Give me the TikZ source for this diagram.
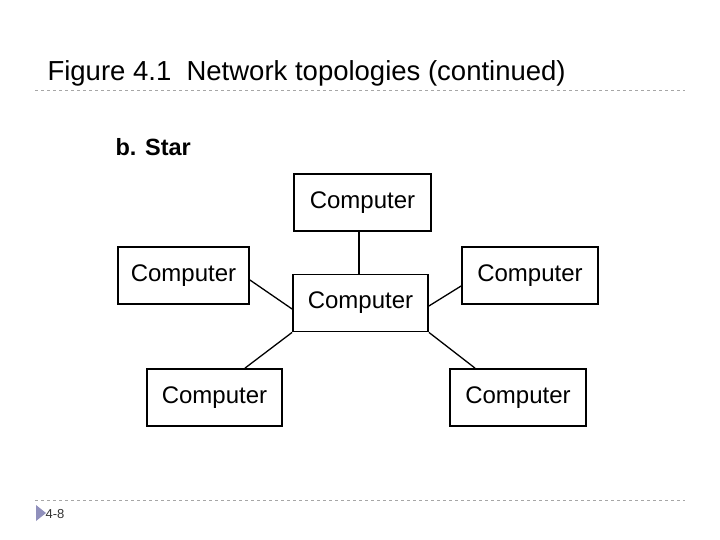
\documentclass[tikz,border=0pt]{standalone}
\usepackage{fontspec}
\setmainfont{Liberation Sans}
\begin{document}
\begin{tikzpicture}[x=1pt,y=-1pt,
  comp/.style={draw,line width=1.8pt,minimum width=#1,minimum height=57pt,inner sep=0pt,font=\fontsize{24}{24}\selectfont},
  link/.style={line width=1.3pt}]
\useasboundingbox (0,0) rectangle (720,540);
\node[anchor=base west,font=\fontsize{27.5}{27.5}\selectfont] (title) at (44,81) {Figure 4.1\ \ Network topologies (continued)};
\draw[gray!70,dashed,line width=0.6pt] (35,90) coordinate (d1) -- (685,90) coordinate (d2);
\draw[gray!70,dashed,line width=0.6pt] (35,500) coordinate (d3) -- (685,500) coordinate (d4);
\node[anchor=base west,font=\fontsize{23.5}{23.5}\selectfont\bfseries] (lab) at (112,156) {b. Star};
\node[comp=137pt] (top) at (362.5,202.5) {Computer};
\node[comp=131pt] (left) at (183.5,275.5) {Computer};
\node[comp=135pt] (cen) at (360.5,303) {Computer};
\node[comp=136pt] (right) at (530,275.5) {Computer};
\node[comp=135pt] (bl) at (214.5,397.5) {Computer};
\node[comp=136pt] (br) at (518,397.5) {Computer};
\draw[link] (top.south -| 359,0) -- (cen.north -| 359,0);
\draw[link] (left.east |- 0,280) -- (cen.west |- 0,309);
\draw[link] (cen.east |- 0,306) -- (right.west |- 0,286);
\draw[link] (cen.south west) -- (bl.north -| 245,0);
\draw[link] (cen.south east) -- (br.north -| 475,0);
\fill[blue!25!gray!70] (36,505) -- (46,513) -- (36,521) -- cycle;
\node[anchor=base west,font=\fontsize{13}{13}\selectfont,text=black!80] (pg) at (42,518) {4-8};
\end{tikzpicture}
\end{document}
